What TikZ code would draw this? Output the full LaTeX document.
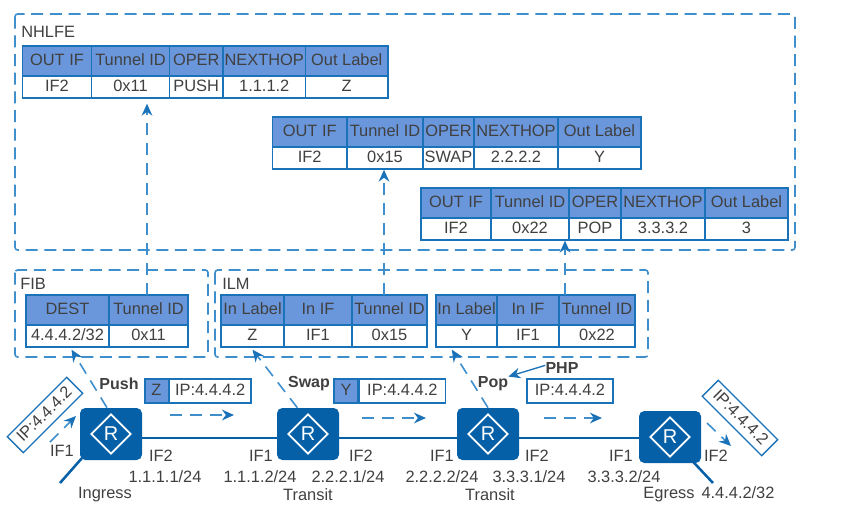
\documentclass[tikz,border=0pt]{standalone}
\usepackage{fontspec}
\setmainfont{Liberation Sans}
\usetikzlibrary{arrows.meta,positioning,calc,shapes.geometric}
\definecolor{RouterBlue}{HTML}{0560A8}
\definecolor{EdgeBlue}{HTML}{1A72B8}
\definecolor{DashBlue}{HTML}{3F8FCC}
\definecolor{HeadBlue}{HTML}{6A97DB}
\definecolor{TextGray}{HTML}{404040}
% one table: prefix, top y, list of x1/x2/heading/value
\newcommand{\lfbtable}[3]{%
  \foreach \xa/\xb/\hd/\vl [count=\i] in {#3} {
    \node[headcell,minimum width=(\xb-\xa)*0.75pt] (#1h\i) at ({(\xa+\xb)/2},#2+15) {\hd};
    \node[bodycell,minimum width=(\xb-\xa)*0.75pt] (#1v\i) at ({(\xa+\xb)/2},#2+41) {\vl};
  }}
\begin{document}
\begin{tikzpicture}[
    x=0.75pt, y=-0.75pt,
    txt/.style={font=\fontsize{12.3}{14}\selectfont,text=TextGray,inner sep=0pt},
    boldtxt/.style={txt,font=\fontsize{12}{14}\selectfont\bfseries},
    headcell/.style={rectangle,draw=EdgeBlue,fill=HeadBlue,line width=1pt,txt,
      minimum height=22.5pt,text height=9pt,text depth=2.5pt},
    bodycell/.style={rectangle,draw=EdgeBlue,fill=white,line width=1pt,txt,
      minimum height=16.5pt,text height=9pt,text depth=2.5pt},
    region/.style={draw=DashBlue,line width=1.2pt,dash pattern=on 9pt off 5pt,rounded corners=2pt},
    flow/.style={draw=DashBlue,line width=1.2pt,dash pattern=on 9pt off 6pt,
      -{Stealth[length=9pt,width=8pt,color=EdgeBlue]}},
    router/.style={rectangle,rounded corners=4pt,fill=RouterBlue,
      minimum width=46.5pt,minimum height=39pt,inner sep=0pt},
    rmark/.style={diamond,draw=white,line width=1.3pt,minimum size=30pt,inner sep=0pt,
      font=\fontsize{15}{16}\selectfont,text=white},
    link/.style={draw=RouterBlue,line width=1.9pt},
    pkt/.style={rectangle,draw=EdgeBlue,fill=white,line width=1pt,txt,
      minimum height=18pt,text height=9pt,text depth=2.5pt},
    tilted/.style={pkt,minimum width=63pt,minimum height=17pt},
  ]
  \useasboundingbox (0,0) rectangle (850,508);
  % Dashed regions
  \node[txt,anchor=west] (nhlfe) at (21,32) {NHLFE};
  \node[txt,anchor=west] (fib) at (20,284) {FIB};
  \node[txt,anchor=west] (ilm) at (222,284) {ILM};
  \draw[region] (15,14) rectangle (795,250);
  \draw[region] (15,270) rectangle (208,357);
  \draw[region] (215,270) rectangle (648,357);
  % NHLFE tables
  \lfbtable{ta}{46}{22.5/91.5/OUT IF/IF2,91.5/169.5/Tunnel ID/0x11,169.5/223/OPER/PUSH,223/305.5/NEXTHOP/1.1.1.2,305.5/388/Out Label/Z}
  \lfbtable{tb}{117}{272.5/347/OUT IF/IF2,347/423/Tunnel ID/0x15,423/474/OPER/SWAP,474/558/NEXTHOP/2.2.2.2,558/641/Out Label/Y}
  \lfbtable{tc}{188}{421/491/OUT IF/IF2,491/569/Tunnel ID/0x22,569/621/OPER/POP,621/705/NEXTHOP/3.3.3.2,705/788/Out Label/3}
  % FIB and ILM tables
  \lfbtable{fb}{295}{26/109/DEST/{4.4.4.2/32},109/188/Tunnel ID/0x11}
  \lfbtable{ia}{295}{221/284/In Label/Z,284/352/In IF/IF1,352/427/Tunnel ID/0x15}
  \lfbtable{ib}{295}{436/497/In Label/Y,497/559/In IF/IF1,559/635/Tunnel ID/0x22}
  % Routers
  \foreach \nm/\cx/\cy in {ra/111/434,rb/308/434,rc/488/434,rd/670/437} {
    \node[router] (\nm) at (\cx,\cy) {};
    \node[rmark] (\nm m) at (\nm) {R};
  }
  \draw[link] ([yshift=-3pt]ra.east) -- ([yshift=-3pt]rb.west);
  \draw[link] ([yshift=-3pt]rb.east) -- ([yshift=-3pt]rc.west);
  \draw[link] ([yshift=-3pt]rc.east) -- ([yshift=-0.75pt]rd.west);
  \coordinate (sa) at (60,483);
  \coordinate (sd) at (713,483);
  \draw[link] ([xshift=2pt,yshift=2pt]ra.south west) -- (sa);
  \draw[link] ([xshift=-6pt,yshift=1pt]rd.south east) -- (sd);
  % Lookup arrows
  \draw[flow] ([xshift=-3pt]ra.north) -- ([xshift=3pt,yshift=-1.5pt]fbv1.south);
  \draw[flow] ([xshift=-8pt]rb.north) -- ([yshift=-1.5pt]iav1.south);
  \draw[flow] (rc.north) -- ([xshift=-11pt,yshift=-1.5pt]ibv1.south);
  \coordinate (pa) at (147,295);
  \coordinate (pb) at (384,295);
  \coordinate (pc) at (565,295);
  \draw[flow] (pa) -- ($(pa |- tav2.south)+(0,5)$);
  \draw[flow] (pb) -- (pb |- tbv2.south);
  \draw[flow] (pc) -- (pc |- tcv2.south);
  % Packets
  \node[headcell,minimum width=17.5pt,minimum height=18pt] (pz) at (156.5,391) {Z};
  \node[pkt,right=0pt of pz,minimum width=61pt] (pzip) {IP:4.4.4.2};
  \node[headcell,minimum width=18pt,minimum height=18pt] (py) at (346,391) {Y};
  \node[pkt,right=0pt of py,minimum width=64.5pt] (pyip) {IP:4.4.4.2};
  \node[pkt,minimum width=64.5pt] (pip) at (570,391) {IP:4.4.4.2};
  \node[tilted,rotate=45] (pin) at (45,415) {IP:4.4.4.2};
  \node[tilted,rotate=-45] (pout) at (740,418) {IP:4.4.4.2};
  % Direction arrows
  \foreach \nm/\xa/\ya/\xb/\yb in {da/50/442/76/416,db/170/415/234/415,dc/362/418/426/418,dd/544/418/602/418,de/707/423/731/446} {
    \coordinate (\nm s) at (\xa,\ya);
    \coordinate (\nm e) at (\xb,\yb);
    \draw[flow] (\nm s) -- (\nm e);
  }
  % Operation labels
  \node[boldtxt] (push) at (119,384) {Push};
  \node[boldtxt] (swap) at (309,384) {Swap};
  \node[boldtxt] (pop) at (493,384) {Pop};
  \node[boldtxt] (php) at (562,368) {PHP};
  \draw[draw=EdgeBlue,line width=1pt,-{Stealth[length=9pt,width=8pt]}] ([yshift=2pt]php.west) -- (pop.north east);
  % Interface labels
  \foreach \nm/\cx/\cy/\lb in {ia/62/451/IF1,oa/161/456/IF2,ab/165/477/{1.1.1.1/24},
      ib/261/456/IF1,ob/361/456/IF2,bb/260/477/{1.1.1.2/24},bc/348/477/{2.2.2.1/24},
      ic/442/456/IF1,oc/537/456/IF2,cb/442/477/{2.2.2.2/24},cc/529/477/{3.3.3.1/24},
      id/621/456/IF1,od/716/456/IF2,db/624/477/{3.3.3.2/24},dc/738/493/{4.4.4.2/32},
      na/105/495/Ingress,nb/308/495/Transit,nc/490/495/Transit,nd/669/495/Egress} {
    \node[txt] (lb\nm) at (\cx,\cy) {\lb};
  }
\end{tikzpicture}
\end{document}
